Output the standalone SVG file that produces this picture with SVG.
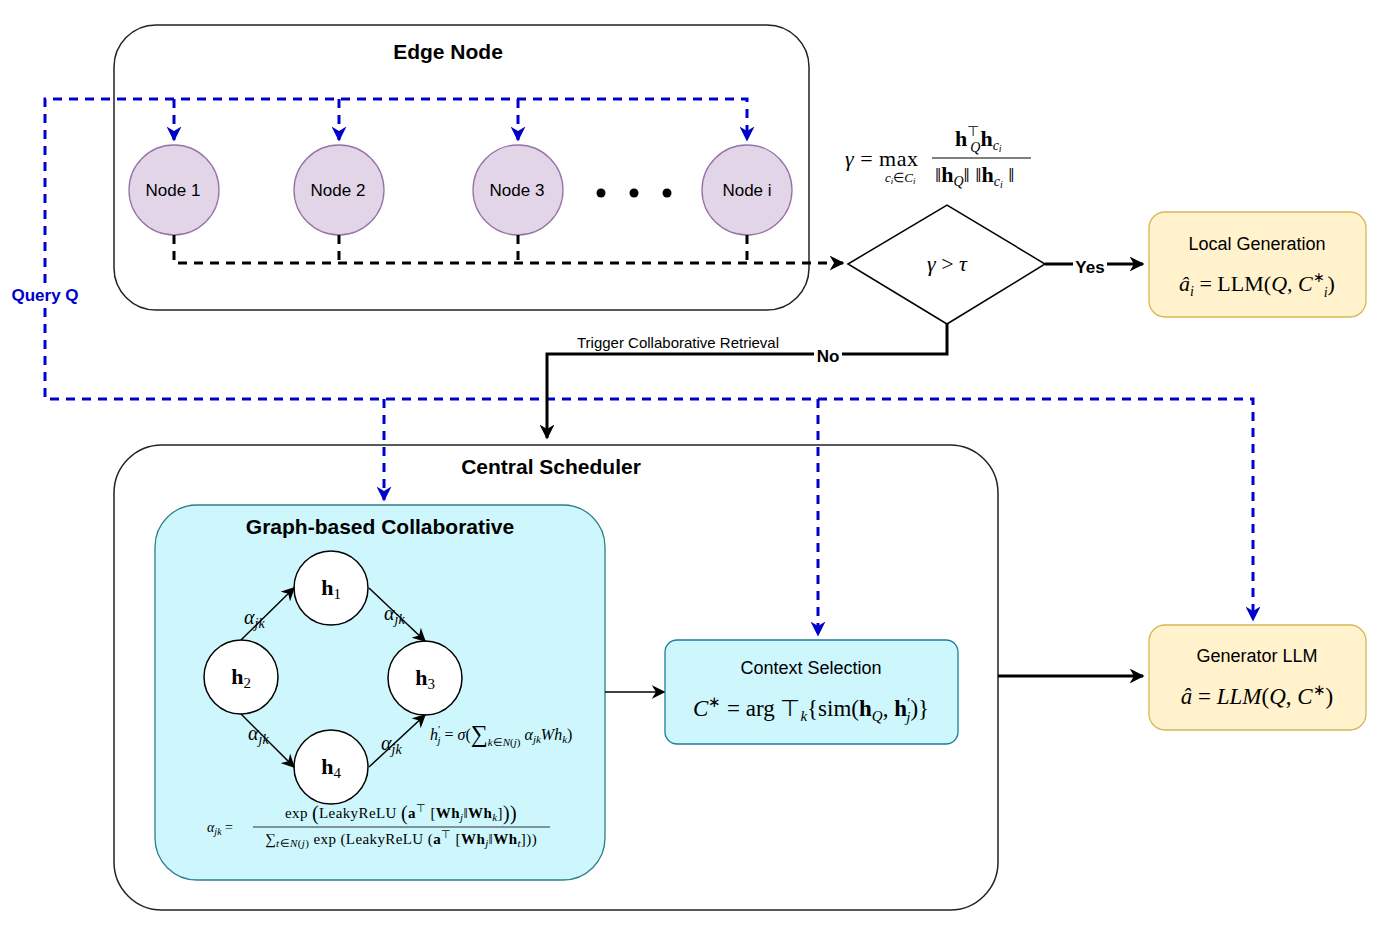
<svg xmlns="http://www.w3.org/2000/svg" width="1384" height="934" viewBox="0 0 1384 934">
<defs>
<marker id="blueArrow" viewBox="0 0 10 10" refX="9" refY="5" markerWidth="5" markerHeight="5" orient="auto" markerUnits="strokeWidth">
<path d="M0,0 L10,5 L0,10 L3,5 Z" fill="#0000cc"/>
</marker>
<marker id="blackArrow" viewBox="0 0 10 10" refX="9" refY="5" markerWidth="5" markerHeight="5" orient="auto" markerUnits="strokeWidth">
<path d="M0,0 L10,5 L0,10 L3,5 Z" fill="#000"/>
</marker>
<marker id="thinArrow" viewBox="0 0 10 10" refX="9" refY="5" markerWidth="9" markerHeight="9" orient="auto" markerUnits="strokeWidth">
<path d="M0,0 L10,5 L0,10 L3,5 Z" fill="#000"/>
</marker>
</defs>
<style>
.sans{font-family:"Liberation Sans",Arial,sans-serif;}
.math{font-family:"Liberation Serif","Times New Roman",serif;}
.title{font-family:"Liberation Sans",Arial,sans-serif;font-weight:bold;font-size:21px;text-anchor:middle;}
.lbl{font-family:"Liberation Sans",Arial,sans-serif;font-size:17px;text-anchor:middle;}
.lbl2{font-family:"Liberation Sans",Arial,sans-serif;font-size:18px;text-anchor:middle;}
.edgenode{fill:#e1d5e7;stroke:#9673a6;stroke-width:1.3;}
.yellow{fill:#fff2cc;stroke:#d6b656;stroke-width:1.3;}
.cyan{fill:#cdf7fd;stroke:#2f7f8a;stroke-width:1.3;}
.hnode{fill:#fff;stroke:#000;stroke-width:1.5;}
.bdash{fill:none;stroke:#0000cc;stroke-width:3;stroke-dasharray:9 7;}
.kdash{fill:none;stroke:#000;stroke-width:3;stroke-dasharray:9 7;}
.solid{fill:none;stroke:#000;stroke-width:3;}
.thin{fill:none;stroke:#000;stroke-width:1.5;}
</style>
<rect width="1384" height="934" fill="#fff"/>

<g id="edge-node-container">
<rect x="114" y="25" width="695" height="285" rx="42" fill="#fff" stroke="#222" stroke-width="1.5"/>
<text class="title" x="448" y="59">Edge Node</text>
</g>

<g id="central-scheduler">
<rect x="114" y="445" width="884" height="465" rx="48" fill="#fff" stroke="#222" stroke-width="1.5"/>
<text class="title" x="551" y="474">Central Scheduler</text>
</g>

<g id="node1"><circle class="edgenode" cx="174" cy="190" r="45"/><text class="lbl" x="173" y="196">Node 1</text></g>
<g id="node2"><circle class="edgenode" cx="339" cy="190" r="45"/><text class="lbl" x="338" y="196">Node 2</text></g>
<g id="node3"><circle class="edgenode" cx="518" cy="190" r="45"/><text class="lbl" x="517" y="196">Node 3</text></g>
<g id="nodei"><circle class="edgenode" cx="747" cy="190" r="45"/><text class="lbl" x="747" y="196">Node i</text></g>
<g id="ellipsis"><circle cx="601" cy="193" r="4.5"/><circle cx="634" cy="193" r="4.5"/><circle cx="667" cy="193" r="4.5"/></g>

<g id="similarity-formula" class="math" font-size="22">
<text x="845" y="166" letter-spacing="0.5"><tspan font-style="italic">γ</tspan> = max</text>
<text x="885" y="182" font-size="13" font-style="italic">c<tspan font-size="9" dy="2">i</tspan><tspan dy="-2" font-style="normal">∈</tspan>C<tspan font-size="9" dy="2">i</tspan></text>
<text x="955" y="146" font-weight="bold">h<tspan font-size="14" font-weight="normal" dy="-10">⊤</tspan><tspan font-size="14" font-weight="normal" font-style="italic" dx="-9" dy="16">Q</tspan><tspan dy="-6">h</tspan><tspan font-size="14" font-weight="normal" font-style="italic" dy="4">c</tspan><tspan font-size="10" font-weight="normal" font-style="italic" dy="2">i</tspan></text>
<line x1="932" y1="158" x2="1031" y2="158" stroke="#000" stroke-width="1"/>
<text x="935" y="182">‖<tspan font-weight="bold">h</tspan><tspan font-size="14" font-style="italic" dy="4">Q</tspan><tspan dy="-4">‖ ‖</tspan><tspan font-weight="bold">h</tspan><tspan font-size="14" font-style="italic" dy="4">c</tspan><tspan font-size="10" font-style="italic" dy="2">i</tspan><tspan dy="-6"> ‖</tspan></text>
</g>

<g id="decision">
<polygon points="848,264 947,205 1045,264 947,324" fill="#fff" stroke="#000" stroke-width="1.5"/>
<text class="math" x="947" y="271" font-size="22" text-anchor="middle"><tspan font-style="italic">γ</tspan> &gt; <tspan font-style="italic">τ</tspan></text>
</g>

<g id="local-generation">
<rect class="yellow" x="1149" y="212" width="217" height="105" rx="16"/>
<text class="lbl2" x="1257" y="250">Local Generation</text>
<text class="math" x="1257" y="291" font-size="22" text-anchor="middle"><tspan font-style="italic">â</tspan><tspan font-size="14" font-style="italic" dy="5">i</tspan><tspan dy="-5"> = LLM(</tspan><tspan font-style="italic">Q</tspan>, <tspan font-style="italic">C</tspan><tspan font-size="14" dy="-9">∗</tspan><tspan font-size="14" font-style="italic" dx="-1" dy="15">i</tspan><tspan dy="-6">)</tspan></text>
</g>

<g id="graph-collaborative">
<rect class="cyan" x="155" y="505" width="450" height="375" rx="42"/>
<text class="title" x="380" y="534">Graph-based Collaborative</text>
</g>

<g id="h1"><circle class="hnode" cx="331" cy="588" r="37"/><text class="math" x="331" y="595" font-size="22" text-anchor="middle" font-weight="bold">h<tspan font-weight="normal" font-size="15" dy="4">1</tspan></text></g>
<g id="h2"><circle class="hnode" cx="241" cy="677" r="37"/><text class="math" x="241" y="684" font-size="22" text-anchor="middle" font-weight="bold">h<tspan font-weight="normal" font-size="15" dy="4">2</tspan></text></g>
<g id="h3"><circle class="hnode" cx="425" cy="678" r="37"/><text class="math" x="425" y="685" font-size="22" text-anchor="middle" font-weight="bold">h<tspan font-weight="normal" font-size="15" dy="4">3</tspan></text></g>
<g id="h4"><circle class="hnode" cx="331" cy="767" r="37"/><text class="math" x="331" y="774" font-size="22" text-anchor="middle" font-weight="bold">h<tspan font-weight="normal" font-size="15" dy="4">4</tspan></text></g>

<g id="context-selection">
<rect class="cyan" x="665" y="640" width="293" height="104" rx="12" style="stroke:#1b7f9a"/>
<text class="lbl2" x="811" y="674">Context Selection</text>
<text class="math" x="811" y="716" font-size="23" text-anchor="middle"><tspan font-style="italic">C</tspan><tspan font-size="15" dy="-9">∗</tspan><tspan dy="9"> = arg ⊤</tspan><tspan font-size="15" font-style="italic" dy="5">k</tspan><tspan dy="-5">{sim(</tspan><tspan font-weight="bold">h</tspan><tspan font-size="15" font-style="italic" dy="5">Q</tspan><tspan dy="-5">, </tspan><tspan font-weight="bold">h</tspan><tspan font-size="15" dy="-8">′</tspan><tspan font-size="15" font-style="italic" dx="-4" dy="14">j</tspan><tspan dy="-6">)}</tspan></text>
</g>

<g id="generator-llm">
<rect class="yellow" x="1149" y="625" width="217" height="105" rx="16"/>
<text class="lbl2" x="1257" y="662">Generator LLM</text>
<text class="math" x="1257" y="704" font-size="23" text-anchor="middle"><tspan font-style="italic">â</tspan> = <tspan font-style="italic">LLM</tspan>(<tspan font-style="italic">Q</tspan>, <tspan font-style="italic">C</tspan><tspan font-size="15" dy="-9">∗</tspan><tspan dy="9">)</tspan></text>
</g>

<g id="formulas" class="math">
<text x="430" y="740" font-size="16" font-style="italic">h<tspan font-size="11" dy="-7" font-style="normal">′</tspan><tspan font-size="11" dx="-3" dy="11">j</tspan><tspan dy="-4" font-style="normal"> = </tspan>σ<tspan font-style="normal">(</tspan><tspan font-style="normal" font-size="24" dy="2">∑</tspan><tspan font-size="11" dy="4">k</tspan><tspan font-size="11" font-style="normal">∈</tspan><tspan font-size="11">N</tspan><tspan font-size="11" font-style="normal">(</tspan><tspan font-size="11">j</tspan><tspan font-size="11" font-style="normal">)</tspan><tspan dy="-6"> α</tspan><tspan font-size="11" dy="3">jk</tspan><tspan dy="-3">Wh</tspan><tspan font-size="11" dy="3">k</tspan><tspan font-style="normal" dy="-3">)</tspan></text>
<text x="207" y="832" font-size="14"><tspan font-style="italic">α</tspan><tspan font-style="italic" font-size="10" dy="3">jk</tspan><tspan dy="-3"> =</tspan></text>
<text x="401" y="818" font-size="15" letter-spacing="0.4" text-anchor="middle">exp <tspan font-size="20" dy="2">(</tspan><tspan dy="-2">LeakyReLU </tspan><tspan font-size="20" dy="2">(</tspan><tspan font-weight="bold" dy="-2">a</tspan><tspan font-size="11" dy="-6">⊤</tspan><tspan dy="6"> [</tspan><tspan font-weight="bold">Wh</tspan><tspan font-size="11" font-style="italic" dy="3">j</tspan><tspan dy="-3">‖</tspan><tspan font-weight="bold">Wh</tspan><tspan font-size="11" font-style="italic" dy="3">k</tspan><tspan dy="-3">]</tspan><tspan font-size="20" dy="2">))</tspan></text>
<line x1="253" y1="827" x2="550" y2="827" stroke="#000" stroke-width="0.8"/>
<text x="401" y="844" font-size="15" letter-spacing="0.4" text-anchor="middle">∑<tspan font-size="11" font-style="italic" dy="3">t</tspan><tspan font-size="11">∈</tspan><tspan font-size="11" font-style="italic">N</tspan><tspan font-size="11">(</tspan><tspan font-size="11" font-style="italic">j</tspan><tspan font-size="11">)</tspan><tspan dy="-3"> exp (LeakyReLU (</tspan><tspan font-weight="bold">a</tspan><tspan font-size="11" dy="-6">⊤</tspan><tspan dy="6"> [</tspan><tspan font-weight="bold">Wh</tspan><tspan font-size="11" font-style="italic" dy="3">j</tspan><tspan dy="-3">‖</tspan><tspan font-weight="bold">Wh</tspan><tspan font-size="11" font-style="italic" dy="3">t</tspan><tspan dy="-3">]))</tspan></text>
</g>

<g id="connectors">
<path class="bdash" d="M45,283 L45,99 L747,99 L747,140" marker-end="url(#blueArrow)"/>
<path class="bdash" d="M174,99 L174,140" marker-end="url(#blueArrow)"/>
<path class="bdash" d="M339,99 L339,140" marker-end="url(#blueArrow)"/>
<path class="bdash" d="M518,99 L518,140" marker-end="url(#blueArrow)"/>
<path class="bdash" d="M45,308 L45,399 L1253,399 L1253,620" marker-end="url(#blueArrow)"/>
<path class="bdash" d="M384,399 L384,500" marker-end="url(#blueArrow)"/>
<path class="bdash" d="M818,399 L818,635" marker-end="url(#blueArrow)"/>
<text class="sans" x="45" y="301" font-size="17" font-weight="bold" fill="#0000cc" text-anchor="middle">Query Q</text>

<path class="kdash" d="M174,235 L174,263 L843,263" marker-end="url(#blackArrow)"/>
<path class="kdash" d="M339,235 L339,263"/>
<path class="kdash" d="M518,235 L518,263"/>
<path class="kdash" d="M747,235 L747,263"/>

<path class="solid" d="M1045,264 L1143,264" marker-end="url(#blackArrow)"/>
<rect x="1073" y="257" width="34" height="18" fill="#fff"/>
<text class="sans" x="1090" y="273" font-size="17" font-weight="bold" text-anchor="middle">Yes</text>

<path class="solid" d="M947,324 L947,354 L547,354 L547,438" marker-end="url(#blackArrow)"/>
<rect x="814" y="346" width="28" height="17" fill="#fff"/>
<text class="sans" x="828" y="362" font-size="17" font-weight="bold" text-anchor="middle">No</text>
<text class="sans" x="678" y="348" font-size="15" text-anchor="middle">Trigger Collaborative Retrieval</text>

<path class="thin" d="M241,640 L294,588" marker-end="url(#thinArrow)"/>
<path class="thin" d="M369,588 L425,641" marker-end="url(#thinArrow)"/>
<path class="thin" d="M241,714 L294,767" marker-end="url(#thinArrow)"/>
<path class="thin" d="M369,767 L425,715" marker-end="url(#thinArrow)"/>

<path class="thin" d="M605,692 L664,692" marker-end="url(#thinArrow)"/>
<path class="solid" d="M998,676 L1143,676" marker-end="url(#blackArrow)"/>
</g>

<g id="edge-labels" class="math" font-size="20" font-style="italic">
<text x="244" y="624">α<tspan font-size="14" dy="4">jk</tspan></text>
<text x="384" y="620">α<tspan font-size="14" dy="4">jk</tspan></text>
<text x="248" y="740">α<tspan font-size="14" dy="4">jk</tspan></text>
<text x="381" y="750">α<tspan font-size="14" dy="4">jk</tspan></text>
</g>
</svg>
